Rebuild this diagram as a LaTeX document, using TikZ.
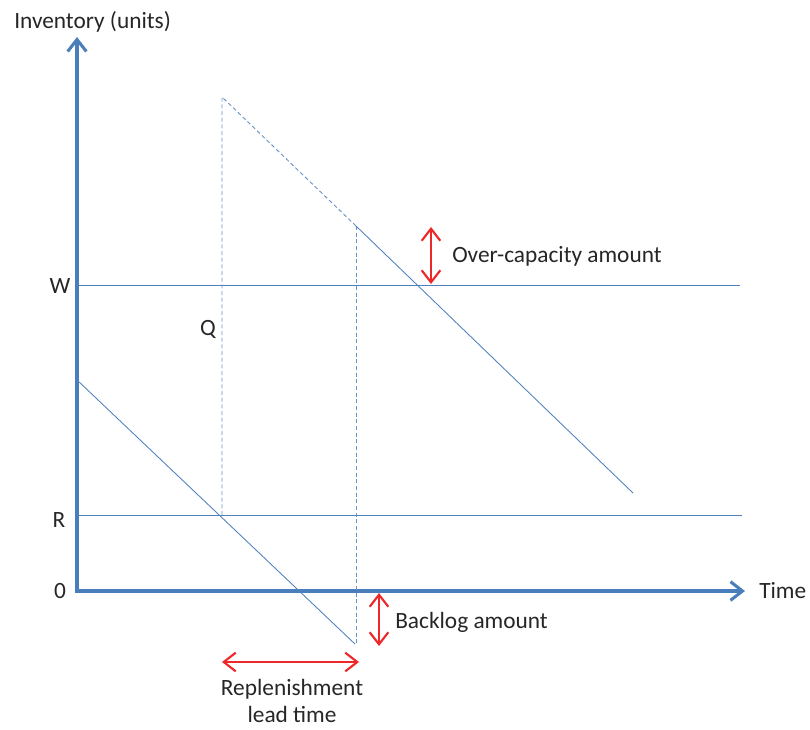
\documentclass[tikz,border=0pt]{standalone}
\usepackage{fontspec}
\setmainfont{Carlito}
\usepackage{xcolor}
\usetikzlibrary{arrows.meta,positioning}

\definecolor{axisblue}{RGB}{74,126,187}
\definecolor{lineblue}{RGB}{79,129,189}
\definecolor{markred}{RGB}{238,40,40}

\begin{document}
\begin{tikzpicture}[x=0.75pt,y=-0.75pt,
    axis/.style={axisblue,line width=2.3pt,line join=miter},
    level/.style={lineblue,line width=0.65pt},
    guide/.style={lineblue!85,line width=0.7pt,dash pattern=on 3pt off 2pt},
    span/.style={markred,line width=1.6pt,{Straight Barb[length=9pt,width=14pt]}-{Straight Barb[length=9pt,width=14pt]}},
    lbl/.style={text=black!85,font=\fontsize{17.5}{21}\selectfont,inner sep=0pt}]
    \useasboundingbox (0,0) rectangle (810,729);

    % Axes
    \coordinate (O) at (77,591);
    \coordinate (ytop) at (77,37);
    \coordinate (xend) at (745,591);
    \draw[axis,{Straight Barb[length=9pt,width=14pt]}-{Straight Barb[length=9pt,width=14pt]}] (ytop) -- (O) -- (xend);
    \node[lbl,anchor=base west] (ylabel) at (14,28) {Inventory (units)};
    \node[lbl,anchor=base west] (xlabel) at (759,598) {Time};

    % Levels
    \coordinate (Wl) at (77,285);
    \coordinate (Wr) at (740,285);
    \coordinate (Rl) at (77,515);
    \coordinate (Rr) at (742,515);
    \draw[level] (Wl) -- (Wr);
    \draw[level] (Rl) -- (Rr);
    \node[lbl,anchor=base] (W) at (60,293) {W};
    \node[lbl,anchor=base] (R) at (59,527) {R};
    \node[lbl,anchor=base] (zero) at (60,598) {0};

    % Stock curve
    \coordinate (start) at (77,380);
    \coordinate (low) at (355,644);
    \coordinate (reorder) at (222,515);
    \coordinate (peak) at (222,97);
    \coordinate (arrive) at (356,226);
    \coordinate (arrivebot) at (356,643);
    \coordinate (stop) at (633,493);
    \draw[level] (start) -- (low);
    \draw[guide] (reorder) -- (peak) -- (arrive);
    \draw[guide] (arrive) -- (arrivebot);
    \draw[level] (arrive) -- (stop);
    \node[lbl,anchor=base] (Q) at (208,335) {Q};

    % Amounts
    \coordinate (octop) at (431,227);
    \coordinate (ocbot) at (431,284);
    \coordinate (bltop) at (379,593);
    \coordinate (blbot) at (379,646);
    \coordinate (ltl) at (222,662);
    \coordinate (ltr) at (359,662);
    \draw[span] (octop) -- (ocbot);
    \draw[span] (bltop) -- (blbot);
    \draw[span] (ltl) -- (ltr);
    \node[lbl,anchor=base west] (over) at (452,262) {Over-capacity amount};
    \node[lbl,anchor=base west] (backlog) at (395,628) {Backlog amount};
    \node[lbl,anchor=base] (lead) at (292,695) {Replenishment};
    \node[lbl,anchor=base] (lead2) at (292,722) {lead time};
\end{tikzpicture}
\end{document}
